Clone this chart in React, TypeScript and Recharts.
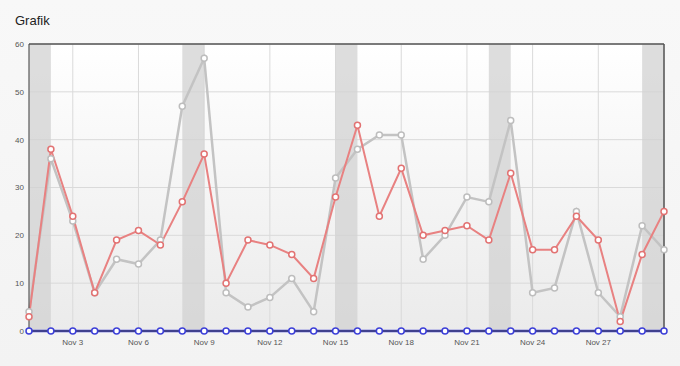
import React from "react";
import {
  LineChart,
  Line,
  XAxis,
  YAxis,
  CartesianGrid,
  ReferenceArea,
  ReferenceLine,
} from "recharts";

// days of November
const days = [
  1, 2, 3, 4, 5, 6, 7, 8, 9, 10, 11, 12, 13, 14, 15, 16, 17, 18, 19, 20, 21,
  22, 23, 24, 25, 26, 27, 28, 29, 30,
];
const greySeries = [
  4, 36, 23, 8, 15, 14, 19, 47, 57, 8, 5, 7, 11, 4, 32, 38, 41, 41, 15, 20,
  28, 27, 44, 8, 9, 25, 8, 3, 22, 17,
];
const redSeries = [
  3, 38, 24, 8, 19, 21, 18, 27, 37, 10, 19, 18, 16, 11, 28, 43, 24, 34, 20,
  21, 22, 19, 33, 17, 17, 24, 19, 2, 16, 25,
];
const blueSeries = days.map(() => 0);
const xTicks = [3, 6, 9, 12, 15, 18, 21, 24, 27];
const yTicks = [0, 10, 20, 30, 40, 50, 60];
const weekends: [number, number][] = [
  [1, 2],
  [8, 9],
  [15, 16],
  [22, 23],
  [29, 30],
];

const data = days.map((d, i) => ({
  day: d,
  grey: greySeries[i],
  red: redSeries[i],
  blue: blueSeries[i],
}));

const font = '"Liberation Sans", Arial, sans-serif';

export default function App() {
  return (
    <div
      style={{
        position: "absolute",
        left: 0,
        top: 0,
        width: 680,
        height: 366,
        background: "linear-gradient(#f8f8f8, #f3f3f3)",
        fontFamily: font,
      }}
    >
      <div
        style={{
          position: "absolute",
          left: 15,
          top: 13,
          fontSize: 13,
          lineHeight: "15px",
          color: "#222",
        }}
      >
        Grafik
      </div>
      <LineChart
        width={680}
        height={366}
        data={data}
        margin={{ top: 44, right: 16, bottom: 0, left: 0 }}
      >
        <defs>
          <linearGradient id="plotBg" x1="0" y1="0" x2="0" y2="1">
            <stop offset="0%" stopColor="#ffffff" />
            <stop offset="100%" stopColor="#ebebeb" />
          </linearGradient>
        </defs>
        <CartesianGrid stroke="#dadada" fill="url(#plotBg)" />
        {weekends.map(([a, b]) => (
          <ReferenceArea
            key={a}
            x1={a}
            x2={b}
            fill="#d2d2d2"
            fillOpacity={0.75}
            stroke="none"
          />
        ))}
        <XAxis
          dataKey="day"
          type="number"
          domain={[1, 30]}
          ticks={xTicks}
          tickFormatter={(d) => `Nov ${d}`}
          height={35}
          tickLine={false}
          tickSize={0}
          tickMargin={8}
          axisLine={{ stroke: "#444" }}
          tick={{ fontSize: 8, fill: "#555", fontFamily: font }}
        />
        <YAxis
          domain={[0, 60]}
          ticks={yTicks}
          width={29}
          tickLine={false}
          tickSize={0}
          tickMargin={5}
          axisLine={{ stroke: "#444" }}
          tick={{ fontSize: 8, fill: "#555", fontFamily: font }}
        />
        <ReferenceLine y={60} stroke="#555" strokeWidth={1.5} />
        <ReferenceLine x={30} stroke="#555" strokeWidth={1.5} />
        <Line
          dataKey="grey"
          stroke="#c3c3c3"
          strokeWidth={2.5}
          dot={{ r: 3, fill: "#fff", stroke: "#bdbdbd", strokeWidth: 1.5 }}
          isAnimationActive={false}
        />
        <Line
          dataKey="red"
          stroke="#e88181"
          strokeWidth={2}
          dot={{ r: 3, fill: "#fff", stroke: "#e27272", strokeWidth: 1.5 }}
          isAnimationActive={false}
        />
        <Line
          dataKey="blue"
          stroke="#3c3fd8"
          strokeWidth={2.5}
          dot={{ r: 3, fill: "#fff", stroke: "#3c3fd8", strokeWidth: 1.5 }}
          isAnimationActive={false}
        />
      </LineChart>
    </div>
  );
}
